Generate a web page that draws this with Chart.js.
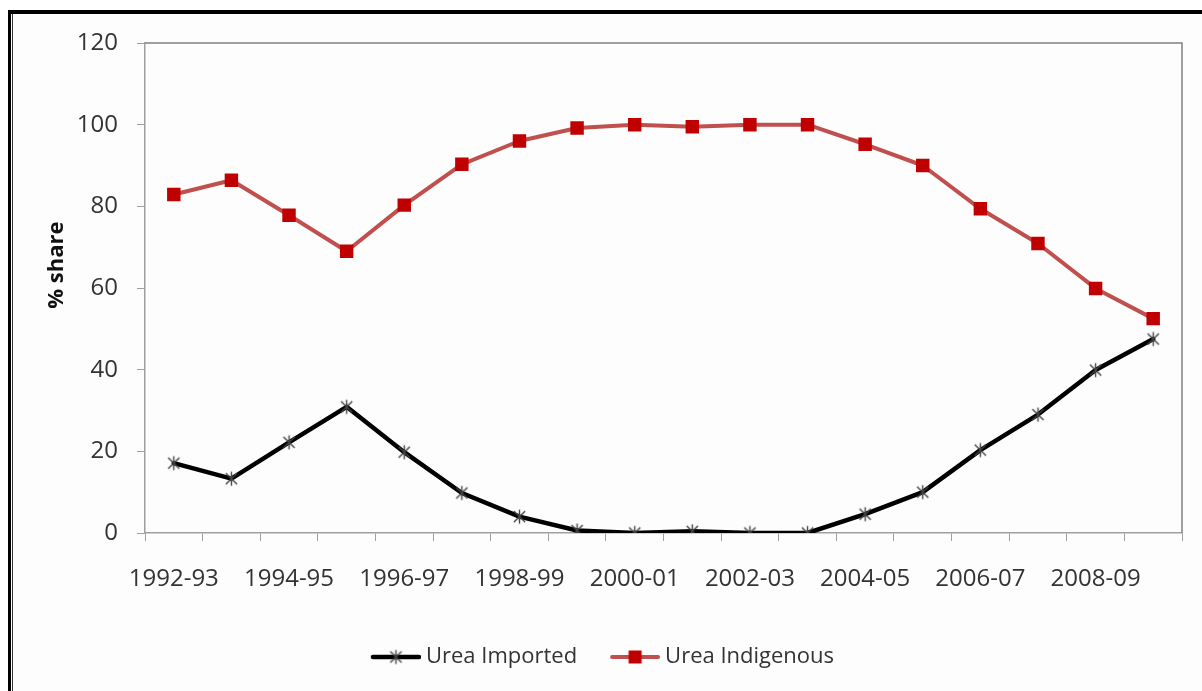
<!DOCTYPE html>
<html><head><meta charset="utf-8">
<script src="https://cdn.jsdelivr.net/npm/chart.js@4/dist/chart.umd.min.js"></script>
<style>
html,body{margin:0;padding:0;background:#fff;width:1202px;height:691px;overflow:hidden;}
#frame{position:absolute;left:8px;top:10px;width:1300px;height:800px;border-top:4px solid #000;border-left:3px solid #000;background:#fdfdfd;}
#frame2{position:absolute;left:12px;top:14px;width:1300px;height:800px;border-left:1px solid #333;}
#c{position:absolute;left:0;top:0;}
</style></head><body>
<div id="frame"></div><div id="frame2"></div>
<canvas id="c" width="1202" height="691"></canvas>
<script>
const categories = ['1992-93','1993-94','1994-95','1995-96','1996-97','1997-98','1998-99','1999-00','2000-01','2001-02','2002-03','2003-04','2004-05','2005-06','2006-07','2007-08','2008-09','2009-10'];
const ureaImported = [17.1, 13.3, 22.2, 30.9, 19.8, 9.8, 4.0, 0.6, 0.0, 0.4, 0.0, 0.0, 4.6, 10.0, 20.3, 29.0, 39.9, 47.5];
const ureaIndigenous = [82.9, 86.4, 77.8, 69.0, 80.3, 90.3, 96.0, 99.2, 100.0, 99.5, 100.0, 100.0, 95.2, 90.0, 79.4, 70.9, 59.9, 52.5];
const yMin = 0, yMax = 120, yStep = 20;
const seriesNames = ['Urea Imported', 'Urea Indigenous'];
const yTitle = '% share';

const FONT = '"Open Sans", Lato, sans-serif';
const TEXT = '#333333';

function starMarker(size, color, lw) {
  const c = document.createElement('canvas');
  c.width = size; c.height = size;
  const g = c.getContext('2d');
  g.strokeStyle = color; g.lineWidth = lw; g.lineCap = 'butt';
  const h = size / 2, r = size / 2 - 1.5;
  g.beginPath();
  g.moveTo(h - r * 0.8, h - r * 0.8); g.lineTo(h + r * 0.8, h + r * 0.8);
  g.moveTo(h + r * 0.8, h - r * 0.8); g.lineTo(h - r * 0.8, h + r * 0.8);
  g.moveTo(h, h - r); g.lineTo(h, h + r);
  g.stroke();
  return c;
}
const star = starMarker(17, '#444444', 1.4);

function legendImg(width, margin, lineColor, lineW, kind) {
  const c = document.createElement('canvas');
  c.width = width; c.height = 20;
  const g = c.getContext('2d');
  g.strokeStyle = lineColor; g.lineWidth = lineW; g.lineCap = 'round';
  g.beginPath(); g.moveTo(margin + 2, 10); g.lineTo(width - 2, 10); g.stroke();
  const cx = margin + (width - margin) / 2;
  if (kind === 'star') {
    g.drawImage(star, cx - 8.5, 10 - 8.5);
  } else {
    g.fillStyle = '#c00000';
    g.fillRect(cx - 6.5, 10 - 6.5, 13, 13);
  }
  return c;
}
const legendImgs = [
  legendImg(79, 29, '#000000', 4.5, 'star'),
  legendImg(79, 29, '#c0504d', 4, 'rect')
];

const boxPlugin = {
  id: 'plotBox',
  afterDraw(chart) {
    const a = chart.chartArea, ctx = chart.ctx;
    ctx.save();
    ctx.strokeStyle = '#808080'; ctx.lineWidth = 1.5;
    ctx.beginPath();
    ctx.moveTo(a.left, a.top); ctx.lineTo(a.right, a.top); ctx.lineTo(a.right, a.bottom);
    ctx.stroke();
    ctx.restore();
  }
};

new Chart(document.getElementById('c'), {
  type: 'line',
  data: {
    labels: categories,
    datasets: [
      {
        label: seriesNames[0], data: ureaImported,
        borderColor: '#000000', borderWidth: 4.5, backgroundColor: '#000000',
        pointStyle: star, pointRadius: 8, borderJoinStyle: 'round', borderCapStyle: 'round',
        tension: 0, fill: false
      },
      {
        label: seriesNames[1], data: ureaIndigenous,
        borderColor: '#c0504d', borderWidth: 4, backgroundColor: '#c00000',
        pointStyle: 'rect', pointRadius: 9.5, pointBorderWidth: 0, pointBorderColor: '#c00000',
        pointBackgroundColor: '#c00000', borderJoinStyle: 'round', borderCapStyle: 'round',
        tension: 0, fill: false
      }
    ]
  },
  options: {
    responsive: false, animation: false, devicePixelRatio: 1,
    layout: { padding: { top: 43, right: 20, left: 0, bottom: 13 } },
    plugins: {
      tooltip: { enabled: false },
      legend: {
        position: 'bottom',
        labels: {
          usePointStyle: true, pointStyleWidth: 67, padding: 10,
          color: TEXT, font: { family: FONT, size: 22 },
          generateLabels(chart) {
            return chart.data.datasets.map((ds, i) => ({
              text: ds.label, pointStyle: legendImgs[i], fillStyle: 'rgba(0,0,0,0)',
              strokeStyle: 'rgba(0,0,0,0)', lineWidth: 0, hidden: false, datasetIndex: i, fontColor: TEXT
            }));
          }
        }
      }
    },
    scales: {
      x: {
        offset: true,
        grid: { offset: true, drawOnChartArea: false, drawTicks: true, tickLength: 8, color: '#a0a0a0', tickColor: '#a0a0a0' },
        border: { color: '#a0a0a0', width: 1.5 },
        ticks: {
          autoSkip: false, maxRotation: 0, minRotation: 0, padding: 24,
          color: TEXT, font: { family: FONT, size: 24 },
          callback(v, i) { return i % 2 === 0 ? categories[i] : ''; }
        },
        afterFit(scale) { scale.height = 103; }
      },
      y: {
        min: yMin, max: yMax,
        grid: { drawOnChartArea: false, drawTicks: true, tickLength: 8, color: '#a0a0a0', tickColor: '#a0a0a0' },
        border: { color: '#a0a0a0', width: 1.5 },
        ticks: { stepSize: yStep, padding: 19, color: TEXT, font: { family: FONT, size: 24 } },
        title: { display: true, text: '        ' + yTitle, color: '#111', font: { family: FONT, size: 22, weight: 'bold' }, padding: { top: 44, bottom: 0 } },
        afterFit(scale) { scale.width = 145; }
      }
    }
  },
  plugins: [boxPlugin]
});
</script>
</body></html>
